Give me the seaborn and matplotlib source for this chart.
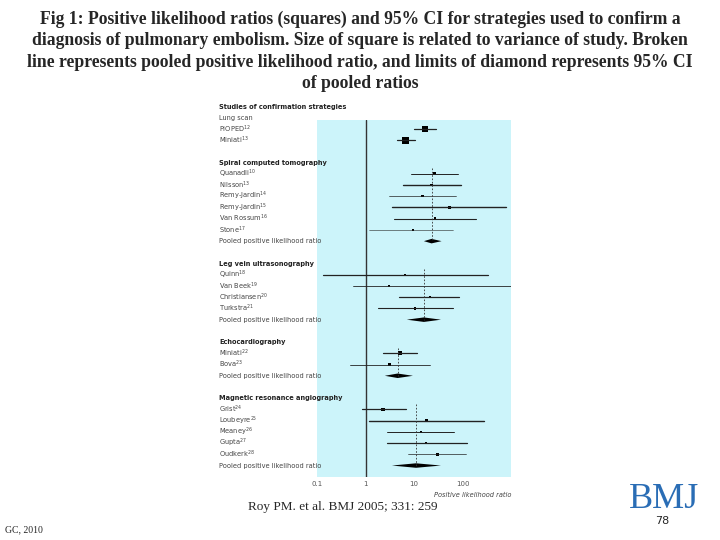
import numpy as np
import pandas as pd
import matplotlib
matplotlib.use("Agg")
import matplotlib.pyplot as plt
import seaborn as sns
from matplotlib.transforms import blended_transform_factory as btf

sns.set_theme(style="white")
plt.rcParams['font.family'] = ['DejaVu Sans']

labels = ["Studies of confirmation strategies", "Lung scan", "PIOPED$^{12}$", "Miniati$^{13}$", "",
          "Spiral computed tomography", "Quanadli$^{10}$", "Nilsson$^{13}$", "Remy-Jardin$^{14}$", "Remy-Jardin$^{15}$",
          "Van Rossum$^{16}$", "Stone$^{17}$", "Pooled positive likelihood ratio", "",
          "Leg vein ultrasonography", "Quinn$^{18}$", "Van Beek$^{19}$", "Christiansen$^{20}$", "Turkstra$^{21}$",
          "Pooled positive likelihood ratio", "",
          "Echocardiography", "Miniati$^{22}$", "Bova$^{23}$", "Pooled positive likelihood ratio", "",
          "Magnetic resonance angiography", "Grist$^{24}$", "Loubeyre$^{25}$", "Meaney$^{26}$", "Gupta$^{27}$",
          "Oudkerk$^{28}$", "Pooled positive likelihood ratio"]
kinds = ["title", "sub", "s", "s", "b", "hdr", "s", "s", "s", "s", "s", "s", "p", "b",
         "hdr", "s", "s", "s", "s", "p", "b", "hdr", "s", "s", "p", "b",
         "hdr", "s", "s", "s", "s", "s", "p"]

study_lr = [17, 6.8, 26, 23, 15, 54, 27, 9.5, 6.6, 3.0, 21, 10.5, 5.2, 3.1, 2.3, 18, 14, 18, 30]
study_lo = [10, 4.4, 8.8, 6.0, 3.1, 3.6, 3.9, 1.2, 0.13, 0.54, 4.9, 1.8, 2.3, 0.47, 0.84, 1.2, 2.8, 2.8, 7.7]
study_hi = [29, 10.5, 80, 94, 72, 800, 192, 65, 330, 1000, 85, 63, 11.4, 21.5, 6.9, 280, 67, 126, 120]
study_size = [22, 26, 4, 4, 3, 4, 4, 3, 3, 2, 2, 3, 9, 3, 5, 3, 3, 2, 4]
study_lw = [0.9, 0.9, 0.7, 1.0, 0.5, 1.0, 0.8, 0.4, 0.9, 0.6, 0.9, 0.8, 0.9, 0.6, 0.9, 1.0, 0.7, 0.9, 0.5]

pooled_lr = [23, 16, 4.6, 11]
pooled_lo = [16, 7.1, 2.5, 3.5]
pooled_hi = [37, 36, 9.5, 36]

ticks = [0.1, 1, 10, 100]
tick_labels = ["0.1", "1", "10", "100"]

fig = plt.figure(figsize=(7.2, 5.4), dpi=100)
ax = fig.add_axes([317/720, 1-477/540, 194/720, 357/540])
ax.set_facecolor("#ccf4fa")
ax.set_xscale("log")
ax.set_xlim(0.1, 1000)
base, step = 106.5, 11.22
ax.set_ylim((477-base)/step, (120-base)/step)
for sp in ax.spines.values():
    sp.set_visible(False)
ax.set_yticks([])
ax.set_xticks(ticks)
ax.set_xticklabels(tick_labels, fontsize=5, color="#555555")
ax.tick_params(axis="x", length=0, pad=3)
ax.minorticks_off()
ax.axvline(1, color="#333333", lw=1.0)

srows = [i for i, k in enumerate(kinds) if k == "s"]
prows = [i for i, k in enumerate(kinds) if k == "p"]
df = pd.DataFrame({"row": srows, "lr": study_lr})
for r, lo, hi, lw in zip(srows, study_lo, study_hi, study_lw):
    ax.plot([lo, hi], [r, r], color="#222222", lw=lw)
sns.scatterplot(data=df, x="lr", y="row", marker="s", s=study_size, color="black",
                edgecolor="none", legend=False, ax=ax)
ax.set_xlabel(""); ax.set_ylabel("")

group_starts = [5, 14, 21, 26]
for j, (r, c, lo, hi) in enumerate(zip(prows, pooled_lr, pooled_lo, pooled_hi)):
    ax.fill([lo, c, hi, c], [r, r-0.2, r, r+0.2], color="black", lw=0)
    top = group_starts[j] + 0.5
    ax.plot([c, c], [top, r], color="#333333", lw=0.6, ls=(0, (2, 2)))

tr = btf(ax.transAxes, ax.transData)
for i, (lab, k) in enumerate(zip(labels, kinds)):
    if k in ("title", "hdr"):
        ax.text(-0.505, i, lab, transform=tr, fontsize=4.8, fontweight="bold", va="center",
                color="#222222", clip_on=False)
    elif k in ("s", "p", "sub"):
        ax.text(-0.505, i, lab, transform=tr, fontsize=4.8, va="center", color="#444444", clip_on=False)

ax.text(1.0, -0.055, "Positive likelihood ratio", transform=ax.transAxes, ha="right",
        fontsize=4.8, style="italic", color="#444444")

title = ("Fig 1: Positive likelihood ratios (squares) and 95% CI for strategies used to confirm a\n"
         "diagnosis of pulmonary embolism. Size of square is related to variance of study. Broken\n"
         "line represents pooled positive likelihood ratio, and limits of diamond represents 95% CI\n"
         "of pooled ratios")
fig.text(0.5, 1-11/540, title, ha="center", va="top", fontsize=12.7, fontweight="bold",
         family="Liberation Serif", linespacing=1.32)
fig.text(248/720, 1-507/540, "Roy PM. et al. BMJ 2005; 331: 259", fontsize=9.5,
         family="Liberation Serif", va="center")
fig.text(5/720, 1-530/540, "GC, 2010", fontsize=7, family="Liberation Serif", va="center")
fig.text(662/720, 1-521/540, "78", fontsize=8, va="center", ha="center")
fig.text(664/720, 1-500/540, "BMJ", fontsize=26, family="Liberation Serif", color="#2a6db5",
         va="center", ha="center")

fig.savefig("out.png", dpi=100)
